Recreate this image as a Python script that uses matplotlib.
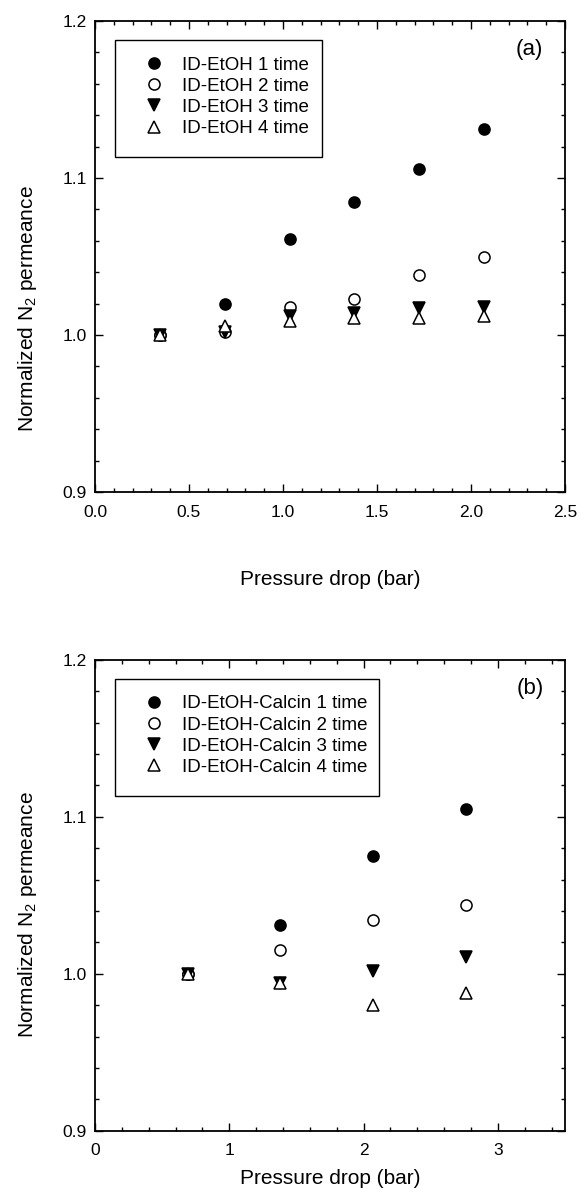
import numpy as np
import matplotlib.pyplot as plt
from matplotlib.ticker import MultipleLocator
from matplotlib.patches import Rectangle

plt.rcParams['font.family'] = ['Liberation Sans', 'DejaVu Sans']
plt.rcParams['mathtext.fontset'] = 'custom'
plt.rcParams['mathtext.rm'] = 'Liberation Sans'

# panel (a) data
xa = [0.345, 0.69, 1.035, 1.38, 1.725, 2.07]
a1 = [1.000, 1.020, 1.061, 1.085, 1.106, 1.131]
a2 = [1.000, 1.002, 1.018, 1.023, 1.038, 1.050]
a3 = [1.000, 1.002, 1.012, 1.014, 1.017, 1.018]
a4 = [1.000, 1.006, 1.009, 1.011, 1.011, 1.012]
labels_a = ['ID-EtOH 1 time', 'ID-EtOH 2 time', 'ID-EtOH 3 time', 'ID-EtOH 4 time']

# panel (b) data
xb = [0.69, 1.38, 2.07, 2.76]
b1 = [1.000, 1.031, 1.075, 1.105]
b2 = [1.000, 1.015, 1.034, 1.044]
b3 = [1.000, 0.994, 1.002, 1.011]
b4 = [1.000, 0.994, 0.980, 0.988]
labels_b = ['ID-EtOH-Calcin 1 time', 'ID-EtOH-Calcin 2 time',
            'ID-EtOH-Calcin 3 time', 'ID-EtOH-Calcin 4 time']

styles = [dict(marker='o', mfc='black'),
          dict(marker='o', mfc='white'),
          dict(marker='v', mfc='black'),
          dict(marker='^', mfc='white')]

fig = plt.figure(figsize=(5.81, 12.03), dpi=100)
ax1 = fig.add_axes([0.1635, 0.591, 0.809, 0.3915])
ax2 = fig.add_axes([0.1635, 0.060, 0.809, 0.3915])


def draw(ax, x, series, labels, xmax, xmajor, xminor, tag, box_w, xlpad, ylab_y):
    for ys, lab, st in zip(series, labels, styles):
        ax.plot(x, ys, linestyle='none', marker=st['marker'], ms=8,
                mfc=st['mfc'], mec='black', mew=1.1, label=lab)
    ax.set_xlim(0, xmax)
    ax.set_ylim(0.9, 1.2)
    ax.xaxis.set_major_locator(MultipleLocator(xmajor))
    ax.xaxis.set_minor_locator(MultipleLocator(xminor))
    ax.yaxis.set_major_locator(MultipleLocator(0.1))
    ax.yaxis.set_minor_locator(MultipleLocator(0.02))
    ax.tick_params(which='both', direction='in', top=True, right=True,
                   labelsize=12.5, width=1)
    ax.tick_params(which='major', length=6)
    ax.tick_params(axis='x', which='major', pad=9)
    ax.tick_params(axis='y', which='major', pad=6)
    ax.tick_params(which='minor', length=3)
    for s in ax.spines.values():
        s.set_linewidth(1.3)
    ax.set_xlabel('Pressure drop (bar)', fontsize=15, labelpad=xlpad)
    ax.set_ylabel('Normalized N$_2$ permeance', fontsize=15)
    ax.yaxis.set_label_coords(-0.12, ylab_y)
    # legend frame drawn separately, entries without frame
    ax.add_patch(Rectangle((0.0426, 0.711), box_w, 0.2487, transform=ax.transAxes,
                           fill=False, edgecolor='black', lw=1.0, zorder=5))
    ax.legend(loc='upper left', bbox_to_anchor=(0.085, 0.925),
              fontsize=13.5, frameon=False, handlelength=2.0,
              handletextpad=0.5, labelspacing=0.22, borderpad=0,
              borderaxespad=0)
    ax.text(0.925, 0.94, tag, transform=ax.transAxes, fontsize=16,
            ha='center', va='center')


draw(ax1, xa, [a1, a2, a3, a4], labels_a, 2.5, 0.5, 0.1, '(a)', 0.4404, 36, 0.39)
draw(ax2, xb, [b1, b2, b3, b4], labels_b, 3.5, 1, 0.2, '(b)', 0.5617, 8, 0.46)

ax1.yaxis.set_major_formatter(plt.FuncFormatter(lambda v, p: f'{v:.1f}'))
ax1.xaxis.set_major_formatter(plt.FuncFormatter(lambda v, p: f'{v:.1f}'))
ax2.yaxis.set_major_formatter(plt.FuncFormatter(lambda v, p: f'{v:.1f}'))

fig.savefig('out.png', dpi=100)
